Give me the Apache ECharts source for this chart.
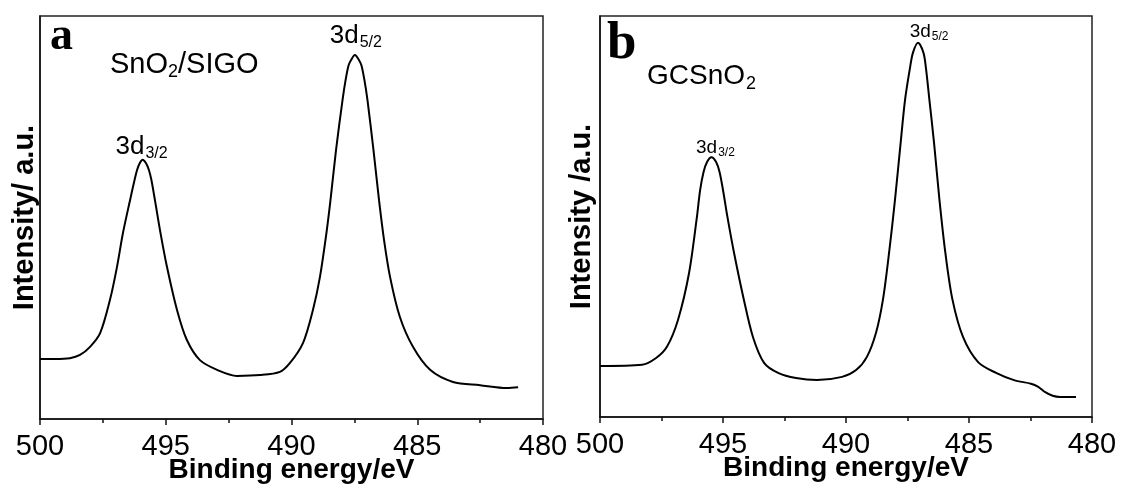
<!DOCTYPE html>
<html>
<head>
<meta charset="utf-8">
<script src="https://cdn.jsdelivr.net/npm/echarts@6/dist/echarts.min.js"></script>
<style>
html, body { margin: 0; padding: 0; background: #fff; }
#chart { width: 1121px; height: 486px; }
</style>
</head>
<body>
<div id="chart"></div>
<script>
// binding energy (eV) and intensity (a.u., 0-100 of the frame height)
let energyA = [500, 499.4, 498.81, 498.41, 498.01, 497.61, 497.22, 496.94, 496.7, 496.42, 496.24, 496.14, 496.03, 495.92, 495.79, 495.67, 495.57, 495.43, 495.21, 494.95, 494.55, 494.16, 493.64, 492.96, 492.17, 491.25, 490.46, 490.06, 489.54, 489.15, 488.87, 488.61, 488.45, 488.23, 487.97, 487.85, 487.73, 487.63, 487.48, 487.32, 487.22, 487.1, 486.98, 486.74, 486.52, 486.32, 486.08, 485.69, 485.17, 484.49, 483.58, 482.5, 481.43, 480.99]
let intensityA = [14.9, 14.9, 15.1, 15.9, 17.9, 21.3, 29.5, 37.7, 46.2, 54.3, 59.3, 61.8, 63.5, 64.3, 63.5, 61.8, 59.3, 54.3, 46.2, 37.7, 27.0, 19.6, 14.6, 12.2, 10.7, 10.9, 11.7, 13.9, 18.9, 27.0, 35.2, 46.2, 54.3, 66.7, 79.2, 84.1, 87.8, 89.1, 90.3, 89.1, 87.8, 84.1, 79.2, 66.7, 54.3, 44.4, 35.2, 25.3, 17.9, 12.2, 9.2, 8.4, 7.7, 7.9]

let energyB = [500, 498.29, 497.72, 497.28, 496.83, 496.38, 496.06, 495.93, 495.79, 495.65, 495.47, 495.28, 495.14, 495.0, 494.82, 494.55, 494.15, 493.78, 493.33, 492.76, 492.03, 491.18, 490.16, 489.59, 489.15, 488.78, 488.5, 488.25, 488.01, 487.78, 487.6, 487.4, 487.28, 487.07, 486.85, 486.75, 486.61, 486.42, 486.2, 485.96, 485.67, 485.24, 484.63, 483.9, 483.17, 482.48, 482.2, 481.9, 481.6, 481.3, 480.65]
let intensityB = [12.7, 13.0, 14.7, 17.5, 24.2, 35.9, 49.9, 56.6, 61.1, 63.6, 64.8, 63.6, 61.1, 56.6, 49.9, 40.9, 29.2, 19.9, 13.5, 11.0, 9.7, 9.2, 10.0, 11.7, 15.0, 21.0, 29.2, 40.9, 54.1, 68.3, 79.1, 87.0, 90.8, 93.3, 90.8, 87.0, 79.1, 68.3, 54.1, 40.9, 29.2, 19.9, 13.7, 11.0, 9.2, 8.3, 7.6, 6.2, 5.3, 5.0, 5.0]

let xTicks = [500, 495, 490, 485, 480]
let peaksA = [[495.92, 64.3, '3/2'], [487.48, 90.3, '5/2']]
let peaksB = [[495.47, 64.8, '3/2'], [487.07, 93.3, '5/2']]

let chart = echarts.init(document.getElementById('chart'))
let sans = '"Liberation Sans", Arial, sans-serif'

function pairs(xs, ys) {
	let out = []
	for (let i = 0; i < xs.length; i++) out.push([xs[i], ys[i]])
	return out
}

function xAxisFor(idx, nm) {
	return {
		gridIndex: idx,
		type: 'value',
		min: 480,
		max: 500,
		interval: 5,
		inverse: true,
		name: nm,
		nameLocation: 'middle',
		nameGap: 37,
		nameMoveOverlap: false,
		nameTextStyle: { fontFamily: sans, fontWeight: 'bold', fontSize: 28, color: '#000' },
		axisLine: { show: true, onZero: false, lineStyle: { color: '#111', width: 1.5 } },
		axisTick: { show: true, inside: false, length: 6, lineStyle: { color: '#111', width: 1.5 } },
		minorTick: { show: true, splitNumber: 2, length: 4, lineStyle: { color: '#111', width: 1.5 } },
		axisLabel: {
			fontFamily: sans, fontSize: 29, color: '#000', margin: 13,
			formatter: v => xTicks.indexOf(v) >= 0 ? String(v) : ''
		},
		splitLine: { show: false }
	}
}

function yAxisFor(idx, nm, gap) {
	return {
		gridIndex: idx,
		type: 'value',
		min: 0,
		max: 100,
		name: nm,
		nameLocation: 'middle',
		nameGap: gap,
		nameMoveOverlap: false,
		nameTextStyle: { fontFamily: sans, fontWeight: 'bold', fontSize: 29, color: '#000' },
		axisLine: { show: true, lineStyle: { color: '#111', width: 1.5 } },
		axisTick: { show: false },
		axisLabel: { show: false },
		splitLine: { show: false }
	}
}

// peak labels: 3d with subscript, nudged relative to the peak top
function peakMarks(list, big, sub, shifts) {
	return {
		symbol: 'circle',
		symbolSize: 0,
		silent: true,
		data: list.map((p, i) => ({
			coord: [p[0], p[1]],
			value: p[2],
			label: {
				show: true,
				position: 'top',
				distance: 0,
				offset: shifts[i],
				formatter: '{m|3d}{s|' + p[2] + '}',
				rich: {
					m: { fontFamily: sans, fontSize: big, color: '#000' },
					s: { fontFamily: sans, fontSize: sub, color: '#000', padding: [Math.round(big * 0.55), 0, 0, 1] }
				}
			}
		}))
	}
}

let option = {
	animation: false,
	backgroundColor: '#fff',
	grid: [
		{ left: 40, top: 16, width: 503, height: 403, show: true, borderColor: '#222', borderWidth: 1.5, outerBoundsMode: 'none' },
		{ left: 600, top: 16, width: 492, height: 401, show: true, borderColor: '#222', borderWidth: 1.5, outerBoundsMode: 'none' }
	],
	xAxis: [xAxisFor(0, 'Binding energy/eV'), xAxisFor(1, 'Binding energy/eV')],
	yAxis: [yAxisFor(0, 'Intensity/ a.u.', 1), yAxisFor(1, 'Intensity /a.u.', 4)],
	series: [
		{
			type: 'line',
			xAxisIndex: 0,
			yAxisIndex: 0,
			data: pairs(energyA, intensityA),
			smooth: 0.3,
			showSymbol: false,
			lineStyle: { color: '#000', width: 2 },
			markPoint: peakMarks(peaksA, 26, 16, [[-1, 2], [1, -4]])
		},
		{
			type: 'line',
			xAxisIndex: 1,
			yAxisIndex: 1,
			data: pairs(energyB, intensityB),
			smooth: 0.3,
			showSymbol: false,
			lineStyle: { color: '#000', width: 2 },
			markPoint: peakMarks(peaksB, 19, 12, [[4, 2], [11, 0]])
		}
	],
	graphic: [
		{ type: 'text', left: 50, top: 14, style: { text: 'a', font: 'bold 46px "Liberation Serif", serif', fill: '#000' } },
		{ type: 'text', left: 607, top: 18, style: { text: 'b', font: 'bold 53px "Liberation Serif", serif', fill: '#000' } },
		{
			type: 'text', left: 110, top: 50,
			style: {
				text: '{m|SnO}{s|2}{m|/SIGO}',
				rich: {
					m: { fontFamily: sans, fontSize: 29, fill: '#000' },
					s: { fontFamily: sans, fontSize: 18, fill: '#000', padding: [16, 0, 0, 0] }
				}
			}
		},
		{
			type: 'text', left: 647, top: 62,
			style: {
				text: '{m|GCSnO}{s|2}',
				rich: {
					m: { fontFamily: sans, fontSize: 28, fill: '#000' },
					s: { fontFamily: sans, fontSize: 18, fill: '#000', padding: [16, 0, 0, 1] }
				}
			}
		}
	]
}

chart.setOption(option)
</script>
</body>
</html>
